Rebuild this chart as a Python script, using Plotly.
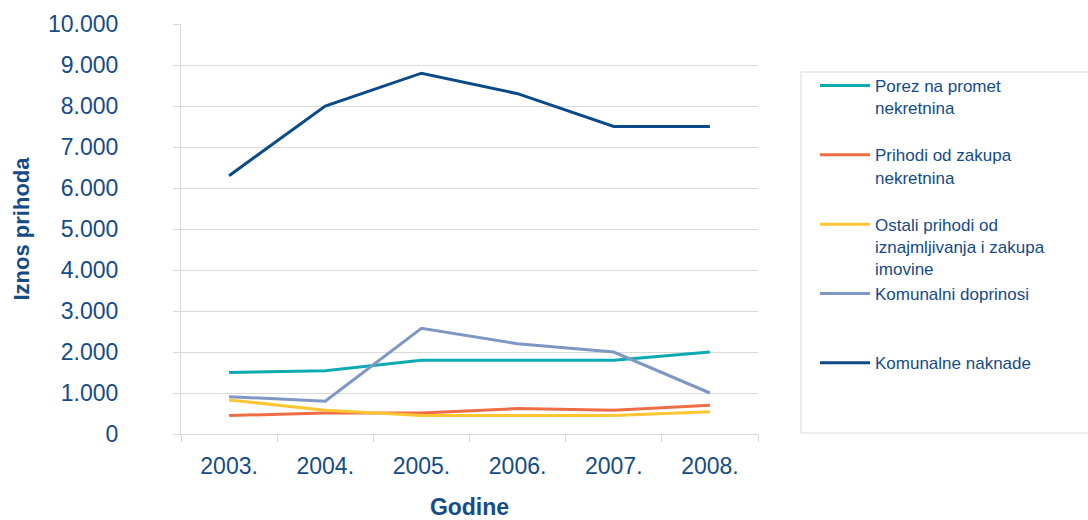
import plotly.graph_objects as go

years = ["2003.", "2004.", "2005.", "2006.", "2007.", "2008."]

porez = [1500, 1540, 1800, 1800, 1800, 2000]
prihodi_zakup = [450, 510, 510, 620, 580, 700]
ostali = [830, 580, 450, 450, 450, 540]
kom_doprinosi = [910, 800, 2580, 2200, 2000, 1000]
kom_naknade = [6300, 8000, 8800, 8300, 7500, 7500]

series = [
    ("Porez na promet<br>nekretnina<br> ", porez, "#0AABB2"),
    ("Prihodi od zakupa<br>nekretnina<br> ", prihodi_zakup, "#EE6D45"),
    ("Ostali prihodi od<br>iznajmljivanja i zakupa<br>imovine", ostali, "#FFC533"),
    ("Komunalni doprinosi<br> <br> ", kom_doprinosi, "#7F97C3"),
    ("Komunalne naknade<br> <br> ", kom_naknade, "#0A4A88"),
]

TXT = "#154B87"
GRID = "#D9D9D9"
FONT = "Arial, Liberation Sans, sans-serif"

fig = go.Figure()
for name, vals, col in series:
    fig.add_trace(go.Scatter(x=years, y=vals, name=name, mode="lines",
                             line=dict(color=col, width=3)))

# legend frame
fig.add_shape(type="rect", xref="paper", yref="paper",
              x0=(801 - 181) / 577, x1=1.6, y0=1 / 410, y1=(434 - 72) / 410,
              line=dict(color=GRID, width=1), fillcolor="rgba(0,0,0,0)", layer="below")

fig.update_layout(
    width=1088, height=520,
    margin=dict(l=181, r=330, t=24, b=86, autoexpand=False),
    paper_bgcolor="white", plot_bgcolor="white",
    separators=",.",
    font=dict(family=FONT, color=TXT),
    legend=dict(
        x=(815 - 181) / 577, xanchor="left", y=(434 - 68) / 410, yanchor="top",
        borderwidth=0, bgcolor="rgba(0,0,0,0)",
        font=dict(size=17, color=TXT, family=FONT),
        valign="top", itemwidth=50, tracegroupgap=0,
    ),
    showlegend=True,
)
fig.update_xaxes(
    type="category", range=[-0.5, 5.5], showline=True, linecolor=GRID, linewidth=1,
    ticks="outside", tickson="boundaries", ticklen=7, tickcolor=GRID,
    showgrid=False, tickfont=dict(size=23, color=TXT),
    ticklabelstandoff=11,
    title=dict(text="<b>Godine</b>", font=dict(size=23, color=TXT), standoff=29),
)
fig.update_yaxes(
    range=[0, 10000], dtick=1000, tickformat=",d",
    showline=True, linecolor=GRID, linewidth=1,
    ticks="outside", ticklen=7, tickcolor=GRID,
    showgrid=True, gridcolor=GRID, gridwidth=1, zeroline=False,
    tickfont=dict(size=23, color=TXT), ticklabelstandoff=50,
    title=dict(text="<b>Iznos prihoda</b>", font=dict(size=22, color=TXT), standoff=12),
)

fig.write_html("out.html")
